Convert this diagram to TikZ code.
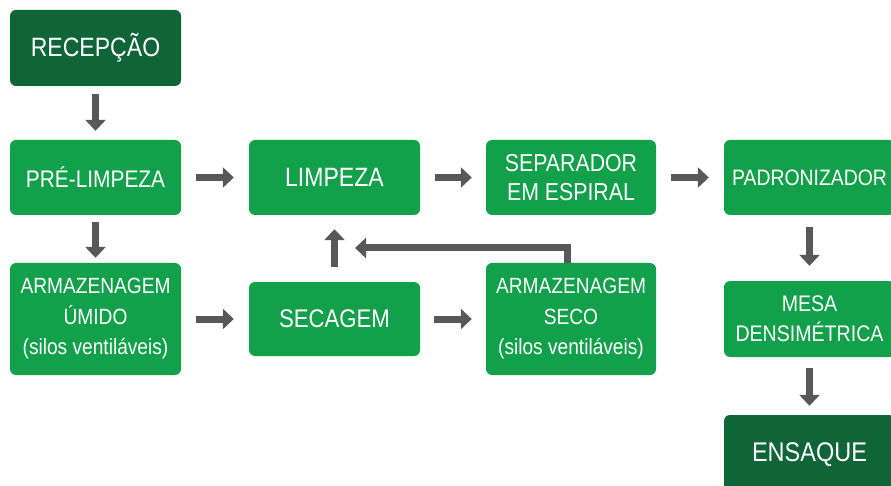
\documentclass[tikz,border=0pt]{standalone}
\usepackage{fontspec}
\setmainfont{Liberation Sans}[FakeStretch=0.87]
\usetikzlibrary{arrows.meta}
\definecolor{lgreen}{RGB}{18,160,74}
\definecolor{dgreen}{RGB}{15,101,55}
\definecolor{arrowgray}{RGB}{88,88,90}
\tikzset{
  box/.style={rounded corners=6pt, fill=lgreen, text=white, align=center,
    inner sep=0pt, minimum width=171pt, minimum height=75pt},
  darkbox/.style={box, fill=dgreen},
  flow/.style={draw=arrowgray, line width=7pt,
    -{Triangle[width=20pt,length=11pt]}},
}
\newcommand{\fs}[2]{\fontsize{#1}{#2}\selectfont}
\begin{document}
\begin{tikzpicture}[x=1pt,y=-1pt]
\useasboundingbox (0,0) rectangle (891,486);
\clip (0,0) rectangle (891,486);
% process steps
\node[darkbox, minimum height=76pt, font=\fs{26.5}{30}] (rec) at (95.5,48) {RECEPÇÃO};
\node[box, font=\fs{24}{29}] (pre) at (95.5,177.5) {PRÉ-LIMPEZA};
\node[box, minimum height=112pt, font=\fs{22}{30.5}] (armu) at (95.5,319)
  {ARMAZENAGEM\\ÚMIDO\\(silos ventiláveis)};
\node[box, font=\fs{26.5}{30}] (limp) at (334.5,177.5) {LIMPEZA};
\node[box, minimum height=74pt, font=\fs{25.5}{30}] (sec) at (334.5,319) {SECAGEM};
\node[box, minimum width=170pt, font=\fs{24.5}{29}] (sep) at (571,177.5)
  {SEPARADOR\\EM ESPIRAL};
\node[box, minimum width=170pt, minimum height=112pt, font=\fs{22}{30.5}] (arms) at (571,319)
  {ARMAZENAGEM\\SECO\\(silos ventiláveis)};
\node[box, font=\fs{22.3}{29}] (pad) at (809.5,177.5) {PADRONIZADOR};
\node[box, minimum height=76pt, font=\fs{22.5}{30}] (mesa) at (809.5,319)
  {MESA\\DENSIMÉTRICA};
\node[darkbox, minimum height=80pt, font=\fs{27}{32}] (ens) at (809.5,455) {ENSAQUE};
% flow arrows
\draw[flow, shorten <=8pt, shorten >=9pt] (rec) -- (pre);
\draw[flow, shorten <=7pt, shorten >=5pt] (pre) -- (armu);
\draw[flow, shorten <=15pt, shorten >=15pt] (pre) -- (limp);
\draw[flow, shorten <=15pt, shorten >=14pt] (limp) -- (sep);
\draw[flow, shorten <=15pt, shorten >=15pt] (sep) -- (pad);
\draw[flow, shorten <=15pt, shorten >=15pt] (armu.east |- sec) -- (sec);
\draw[flow, shorten <=14pt, shorten >=14pt] (sec) -- (arms.west |- sec);
\draw[flow, shorten <=15pt, shorten >=14pt] (sec) -- (limp);
\draw[flow, shorten <=12pt, shorten >=15pt] (pad) -- (mesa);
\draw[flow, shorten <=11pt, shorten >=9pt] (mesa) -- (ens);
% return line from dry storage back to cleaning
\coordinate (ret) at (355,248);
\draw[flow] ([xshift=-4pt]arms.north) |- (ret);
\end{tikzpicture}
\end{document}
